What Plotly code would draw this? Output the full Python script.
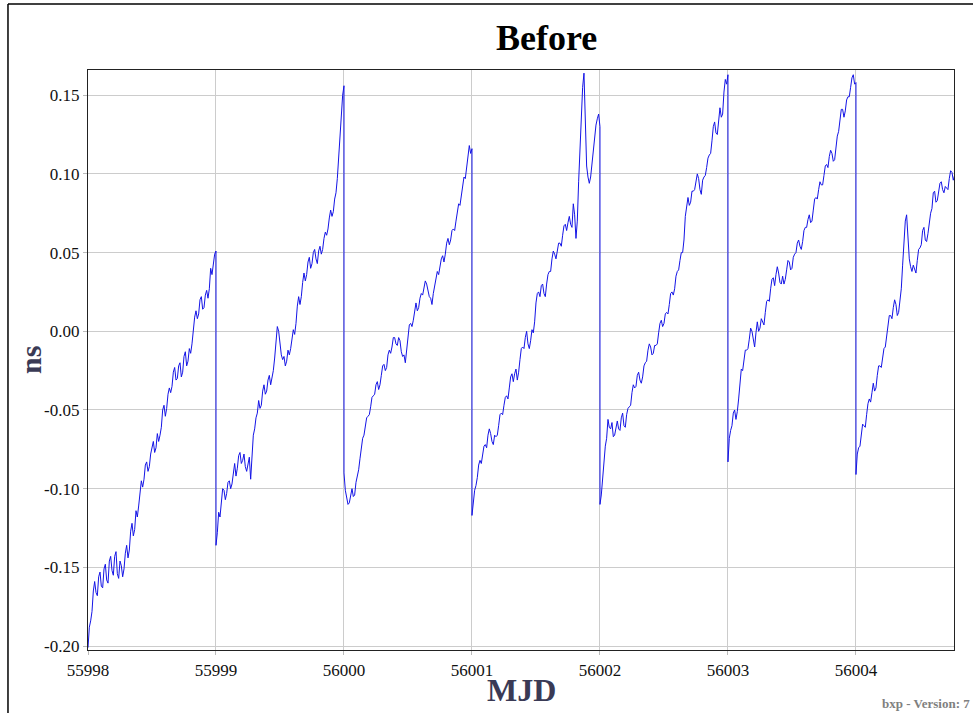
import plotly.graph_objects as go

# ---- data: ns values read every 1/96 day within each MJD day ----
# "_a" lists are on the whole 1/48-day steps, "_b" lists are the readings half a step later
day_starts = [55998, 55999, 56000, 56001, 56002, 56003, 56004]
samples_per_day = 48

d55998_a = [-0.201, -0.184, -0.165, -0.166, -0.156, -0.162, -0.151, -0.158, -0.146, -0.152,
            -0.143, -0.154, -0.146, -0.156, -0.141, -0.144, -0.127, -0.130, -0.114, -0.111,
            -0.095, -0.094, -0.083, -0.086, -0.074, -0.077, -0.065, -0.066, -0.050, -0.054,
            -0.040, -0.039, -0.026, -0.031, -0.022, -0.029, -0.016, -0.022, -0.011, -0.008,
            0.009, 0.008, 0.020, 0.014, 0.023, 0.021, 0.040, 0.044, 0.051]
d55998_b = [-0.188, -0.178, -0.159, -0.168, -0.153, -0.163, -0.148, -0.160, -0.143, -0.155,
            -0.140, -0.157, -0.149, -0.151, -0.136, -0.139, -0.122, -0.126, -0.118, -0.100,
            -0.099, -0.085, -0.089, -0.078, -0.070, -0.074, -0.070, -0.061, -0.047, -0.049,
            -0.036, -0.035, -0.023, -0.030, -0.020, -0.026, -0.013, -0.019, -0.014, 0.003,
            0.013, 0.011, 0.022, 0.015, 0.026, 0.027, 0.036, 0.049]

d55999_a = [-0.136, -0.115, -0.106, -0.101, -0.103, -0.095, -0.097, -0.084, -0.087, -0.077,
            -0.082, -0.086, -0.083, -0.094, -0.066, -0.055, -0.044, -0.047, -0.034, -0.038,
            -0.028, -0.030, -0.017, 0.003, -0.008, -0.018, -0.022, -0.012, -0.011, 0.001,
            0.005, 0.022, 0.022, 0.037, 0.036, 0.047, 0.043, 0.052, 0.043, 0.054,
            0.052, 0.063, 0.065, 0.077, 0.076, 0.088, 0.112, 0.138, 0.156]
d55999_b = [-0.128, -0.118, -0.100, -0.107, -0.096, -0.100, -0.088, -0.092, -0.079, -0.084,
            -0.078, -0.089, -0.080, -0.076, -0.062, -0.052, -0.049, -0.038, -0.040, -0.031,
            -0.034, -0.025, -0.006, 0.000, -0.015, -0.016, -0.019, -0.015, -0.003, -0.002,
            0.016, 0.017, 0.031, 0.032, 0.044, 0.040, 0.050, 0.046, 0.051, 0.049,
            0.059, 0.061, 0.072, 0.073, 0.084, 0.097, 0.126, 0.150]

d56000_a = [-0.090, -0.105, -0.109, -0.100, -0.104, -0.092, -0.081, -0.068, -0.061, -0.054,
            -0.048, -0.041, -0.034, -0.037, -0.028, -0.021, -0.023, -0.012, -0.010, -0.004,
            -0.009, -0.006, -0.016, -0.020, -0.002, 0.005, 0.007, 0.018, 0.015, 0.024,
            0.028, 0.030, 0.022, 0.017, 0.028, 0.038, 0.041, 0.048, 0.049, 0.059,
            0.058, 0.065, 0.070, 0.081, 0.086, 0.098, 0.103, 0.118, 0.116]
d56000_b = [-0.101, -0.110, -0.103, -0.105, -0.096, -0.088, -0.072, -0.066, -0.055, -0.053,
            -0.042, -0.040, -0.032, -0.034, -0.022, -0.025, -0.015, -0.014, -0.004, -0.008,
            -0.004, -0.013, -0.015, -0.012, 0.004, 0.003, 0.014, 0.013, 0.021, 0.023,
            0.032, 0.025, 0.021, 0.024, 0.032, 0.036, 0.046, 0.044, 0.056, 0.055,
            0.064, 0.064, 0.077, 0.080, 0.094, 0.097, 0.112, 0.113]

d56001_a = [-0.117, -0.101, -0.093, -0.082, -0.079, -0.072, -0.066, -0.065, -0.072, -0.067,
            -0.060, -0.052, -0.047, -0.041, -0.036, -0.027, -0.027, -0.031, -0.018, -0.010,
            -0.004, -0.008, -0.006, -0.001, 0.018, 0.025, 0.029, 0.024, 0.030, 0.038,
            0.046, 0.049, 0.051, 0.056, 0.061, 0.068, 0.069, 0.068, 0.081, 0.059,
            0.095, 0.140, 0.164, 0.105, 0.094, 0.107, 0.122, 0.135, 0.130]
d56001_b = [-0.106, -0.098, -0.085, -0.084, -0.073, -0.074, -0.062, -0.070, -0.066, -0.066,
            -0.053, -0.053, -0.042, -0.043, -0.029, -0.032, -0.024, -0.026, -0.011, -0.011,
            0.000, -0.011, 0.001, 0.006, 0.024, 0.022, 0.030, 0.022, 0.036, 0.038,
            0.051, 0.046, 0.056, 0.054, 0.067, 0.064, 0.073, 0.066, 0.074, 0.070,
            0.118, 0.155, 0.130, 0.098, 0.098, 0.113, 0.131, 0.138]

d56002_a = [-0.110, -0.092, -0.073, -0.056, -0.062, -0.067, -0.060, -0.062, -0.055, -0.060,
            -0.053, -0.048, -0.039, -0.036, -0.028, -0.031, -0.029, -0.020, -0.012, -0.010,
            -0.014, -0.009, -0.001, 0.007, 0.005, 0.012, 0.017, 0.025, 0.027, 0.038,
            0.045, 0.050, 0.073, 0.085, 0.082, 0.089, 0.096, 0.097, 0.087, 0.098,
            0.104, 0.112, 0.121, 0.133, 0.125, 0.142, 0.138, 0.160, 0.163]
d56002_b = [-0.104, -0.080, -0.068, -0.061, -0.058, -0.066, -0.057, -0.063, -0.052, -0.061,
            -0.049, -0.047, -0.034, -0.035, -0.026, -0.033, -0.022, -0.019, -0.008, -0.015,
            -0.009, -0.008, 0.005, 0.003, 0.011, 0.011, 0.024, 0.023, 0.035, 0.039,
            0.050, 0.058, 0.081, 0.080, 0.089, 0.090, 0.100, 0.090, 0.096, 0.099,
            0.110, 0.113, 0.130, 0.126, 0.136, 0.136, 0.152, 0.157]

d56003_a = [-0.083, -0.063, -0.052, -0.056, -0.043, -0.024, -0.019, -0.012, -0.005, 0.000,
            -0.010, 0.006, 0.002, 0.006, 0.012, 0.020, 0.027, 0.034, 0.036, 0.037,
            0.030, 0.030, 0.039, 0.044, 0.040, 0.049, 0.056, 0.054, 0.057, 0.066,
            0.071, 0.069, 0.077, 0.085, 0.090, 0.093, 0.099, 0.106, 0.111, 0.113,
            0.109, 0.124, 0.136, 0.141, 0.140, 0.149, 0.155, 0.163, 0.158]
d56003_b = [-0.068, -0.060, -0.050, -0.051, -0.030, -0.025, -0.012, -0.011, 0.002, -0.006,
            -0.001, 0.000, 0.008, 0.004, 0.019, 0.019, 0.033, 0.029, 0.041, 0.031,
            0.035, 0.033, 0.045, 0.039, 0.047, 0.050, 0.058, 0.052, 0.064, 0.066,
            0.074, 0.070, 0.084, 0.084, 0.095, 0.093, 0.105, 0.104, 0.115, 0.108,
            0.119, 0.127, 0.141, 0.136, 0.147, 0.149, 0.161, 0.157]

d56004_a = [-0.091, -0.074, -0.065, -0.060, -0.053, -0.043, -0.039, -0.038, -0.028, -0.022,
            -0.017, -0.010, 0.004, 0.010, 0.015, 0.017, 0.012, 0.027, 0.059, 0.074,
            0.046, 0.038, 0.040, 0.045, 0.053, 0.064, 0.058, 0.062, 0.075, 0.088,
            0.082, 0.089, 0.095, 0.088, 0.091, 0.097, 0.101, 0.099]
d56004_b = [-0.078, -0.073, -0.059, -0.061, -0.046, -0.045, -0.033, -0.036, -0.022, -0.023,
            -0.011, -0.003, 0.010, 0.008, 0.020, 0.010, 0.020, 0.042, 0.070, 0.058,
            0.041, 0.042, 0.037, 0.052, 0.055, 0.066, 0.057, 0.070, 0.078, 0.089,
            0.083, 0.094, 0.090, 0.092, 0.090, 0.102, 0.096]

day_a = [d55998_a, d55999_a, d56000_a, d56001_a, d56002_a, d56003_a, d56004_a]
day_b = [d55998_b, d55999_b, d56000_b, d56001_b, d56002_b, d56003_b, d56004_b]

x_ticks = [55998, 55999, 56000, 56001, 56002, 56003, 56004]
x_ticktext = ["55998", "55999", "56000", "56001", "56002", "56003", "56004"]
y_ticks = [-0.20, -0.15, -0.10, -0.05, 0.00, 0.05, 0.10, 0.15]
y_ticktext = ["-0.20", "-0.15", "-0.10", "-0.05", "0.00", "0.05", "0.10", "0.15"]

mjd, ns = [], []
for d, a, b in zip(day_starts, day_a, day_b):
    for i, v in enumerate(a):
        mjd.append(d + i / samples_per_day)
        ns.append(v)
        if i < len(b):
            mjd.append(d + (i + 0.5) / samples_per_day)
            ns.append(b[i])

fig = go.Figure()
fig.add_trace(go.Scatter(x=mjd, y=ns, mode="lines",
                         line=dict(color="#1414e6", width=1), showlegend=False))

tick_font = dict(family="Liberation Serif", size=17, color="#111111")
fig.update_layout(
    width=973, height=713,
    margin=dict(l=88, r=19, t=70, b=63),
    paper_bgcolor="white", plot_bgcolor="white",
    xaxis=dict(range=[55998, 56004.766], tickvals=x_ticks, ticktext=x_ticktext,
               showgrid=True, gridcolor="#cccccc", gridwidth=1,
               showline=True, linecolor="#222222", linewidth=1.2, mirror=True,
               ticks="outside", ticklen=4, tickcolor="#bbbbbb",
               tickfont=tick_font, zeroline=False),
    yaxis=dict(range=[-0.2025, 0.166], tickvals=y_ticks, ticktext=y_ticktext,
               showgrid=True, gridcolor="#cccccc", gridwidth=1,
               showline=True, linecolor="#222222", linewidth=1.2, mirror=True,
               ticks="outside", ticklen=4, tickcolor="#bbbbbb",
               tickfont=tick_font, zeroline=False),
    annotations=[
        dict(text="<b>Before</b>", x=0.529, y=1.055, xref="paper", yref="paper",
             showarrow=False, xanchor="center", yanchor="middle",
             font=dict(family="Liberation Serif", size=36, color="black")),
        dict(text="<b>MJD</b>", x=0.5, y=-0.069, xref="paper", yref="paper",
             showarrow=False, xanchor="center", yanchor="middle",
             font=dict(family="Liberation Serif", size=32, color="#3a3a55")),
        dict(text="<b>ns</b>", x=-0.067, y=0.5, xref="paper", yref="paper",
             showarrow=False, xanchor="center", yanchor="middle", textangle=-90,
             font=dict(family="Liberation Serif", size=30, color="#3a3a55")),
        dict(text="<b>bxp - Version: 7</b>", x=1.0208, y=-0.0914, xref="paper", yref="paper",
             showarrow=False, xanchor="right", yanchor="middle",
             font=dict(family="Liberation Serif", size=13, color="#808080")),
    ],
    shapes=[
        dict(type="line", xref="paper", yref="paper", x0=-0.0924, x1=-0.0924, y0=-0.2, y1=1.1138,
             line=dict(color="black", width=1.5)),
        dict(type="line", xref="paper", yref="paper", x0=-0.0924, x1=1.1, y0=1.1138, y1=1.1138,
             line=dict(color="black", width=1.5)),
    ],
)

fig.write_html("out.html")
